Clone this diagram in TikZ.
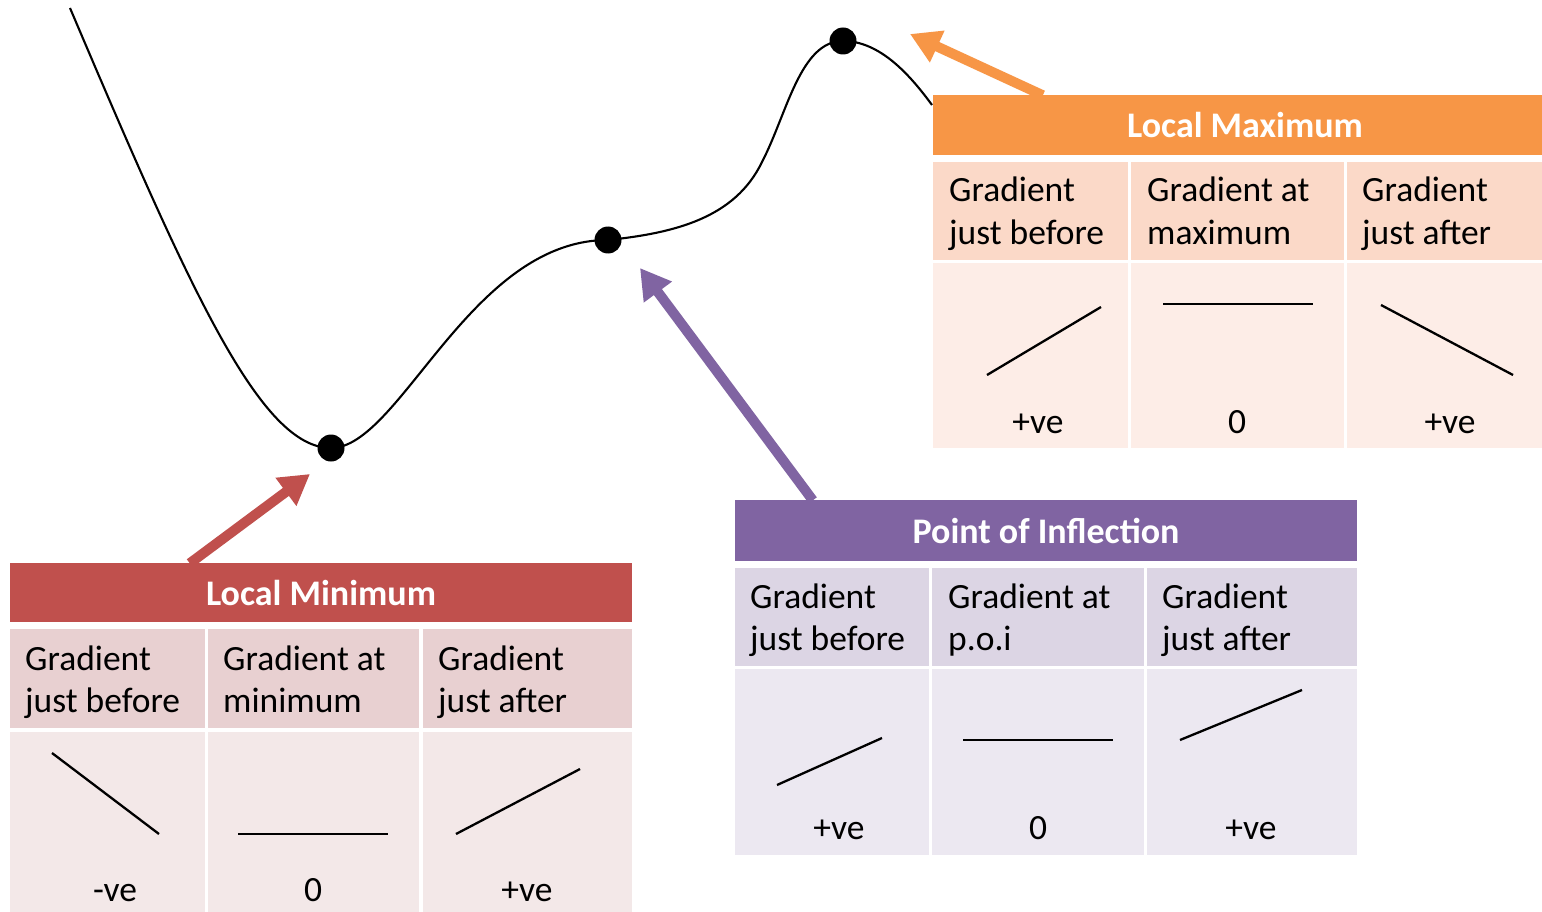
\documentclass[tikz,border=0pt]{standalone}
\usepackage{fontspec}
\setmainfont{Carlito}
\usetikzlibrary{arrows.meta}
\definecolor{redH}{HTML}{C0504D}
\definecolor{redA}{HTML}{E8D0D1}
\definecolor{redB}{HTML}{F3E8E8}
\definecolor{orgH}{HTML}{F79646}
\definecolor{orgA}{HTML}{FBD9C8}
\definecolor{orgB}{HTML}{FDEDE7}
\definecolor{purH}{HTML}{8064A2}
\definecolor{purA}{HTML}{DCD5E4}
\definecolor{purB}{HTML}{ECE8F1}
\begin{document}
\begin{tikzpicture}[x=1pt,y=-1pt,
  hdr/.style={draw=none,inner sep=0pt,text=white,font=\bfseries\fontsize{36}{40}\selectfont},
  cellbox/.style={draw=none,inner sep=0pt,anchor=north west},
  ct/.style={inner sep=0pt,anchor=base west,font=\fontsize{35.5}{42}\selectfont},
  cv/.style={inner sep=0pt,anchor=base,font=\fontsize{35.5}{42}\selectfont},
  gl/.style={line width=2.3pt,black},
  arr/.style={line width=10pt,-{Triangle[length=30pt,width=33pt]}},
  dot/.style={circle,fill=black,inner sep=0pt,minimum size=27pt}]
\useasboundingbox (0,0) rectangle (1542,912);
\fill[white] (0,0) rectangle (1542,912);

% curve and points
\node[dot] (pmin) at (331,448) {};
\node[dot] (pinf) at (608,240) {};
\node[dot] (pmax) at (843,41) {};
\coordinate (cstart) at (70,8);
\coordinate (cmid) at (762,162);
\coordinate (cend) at (932,105);
\draw[line width=2.1pt] (cstart) .. controls (190,290) and (260,448) .. (pmin.center)
  .. controls (400,448) and (470,240) .. (pinf.center)
  .. controls (675,233) and (735,218) .. (cmid)
  .. controls (787,114) and (800,41) .. (pmax.center)
  .. controls (880,41) and (910,75) .. (cend);

% ---------- Local Minimum ----------
\node[hdr,fill=redH,minimum width=622pt,minimum height=59pt] (minH) at (321,592.5) {Local Minimum};
\node[cellbox,fill=redA,minimum width=195pt,minimum height=99pt] (minA1) at (10,629) {};
\node[cellbox,fill=redA,minimum width=211pt,minimum height=99pt] (minA2) at (208,629) {};
\node[cellbox,fill=redA,minimum width=209pt,minimum height=99pt] (minA3) at (423,629) {};
\node[cellbox,fill=redB,minimum width=195pt,minimum height=182pt] (minB1) at (10,732) {};
\node[cellbox,fill=redB,minimum width=211pt,minimum height=182pt] (minB2) at (208,732) {};
\node[cellbox,fill=redB,minimum width=209pt,minimum height=182pt] (minB3) at (423,732) {};
\node[ct] (minT1a) at (25,670) {Gradient};
\node[ct] (minT1b) at (25,712) {just before};
\node[ct] (minT2a) at (223,670) {Gradient at};
\node[ct] (minT2b) at (223,712) {minimum};
\node[ct] (minT3a) at (438,670) {Gradient};
\node[ct] (minT3b) at (438,712) {just after};
\draw[gl] (52,753) -- (159,834);
\draw[gl] (238,834) -- (388,834);
\draw[gl] (456,834) -- (580,769);
\node[cv] (minV1) at (115,901) {-ve};
\node[cv] (minV2) at (313,901) {0};
\node[cv] (minV3) at (527,901) {+ve};

% ---------- Local Maximum ----------
\node[hdr,fill=orgH,minimum width=609pt,minimum height=60pt] (maxH) at (1237.5,125) {};
\node[hdr] (maxHt) at (1245,125) {Local Maximum};
\node[cellbox,fill=orgA,minimum width=195pt,minimum height=98pt] (maxA1) at (933,162) {};
\node[cellbox,fill=orgA,minimum width=213pt,minimum height=98pt] (maxA2) at (1131,162) {};
\node[cellbox,fill=orgA,minimum width=195pt,minimum height=98pt] (maxA3) at (1347,162) {};
\node[cellbox,fill=orgB,minimum width=195pt,minimum height=185pt] (maxB1) at (933,263) {};
\node[cellbox,fill=orgB,minimum width=213pt,minimum height=185pt] (maxB2) at (1131,263) {};
\node[cellbox,fill=orgB,minimum width=195pt,minimum height=185pt] (maxB3) at (1347,263) {};
\node[ct] (maxT1a) at (949,202) {Gradient};
\node[ct] (maxT1b) at (949,244) {just before};
\node[ct] (maxT2a) at (1147,202) {Gradient at};
\node[ct] (maxT2b) at (1147,244) {maximum};
\node[ct] (maxT3a) at (1362,202) {Gradient};
\node[ct] (maxT3b) at (1362,244) {just after};
\draw[gl] (987,375) -- (1101,307);
\draw[gl] (1163,304) -- (1313,304);
\draw[gl] (1381,305) -- (1513,375);
\node[cv] (maxV1) at (1038,433) {+ve};
\node[cv] (maxV2) at (1237,433) {0};
\node[cv] (maxV3) at (1450,433) {+ve};

% ---------- Point of Inflection ----------
\node[hdr,fill=purH,minimum width=622pt,minimum height=61pt] (poiH) at (1046,530.5) {Point of Inflection};
\node[cellbox,fill=purA,minimum width=194pt,minimum height=98pt] (poiA1) at (735,568) {};
\node[cellbox,fill=purA,minimum width=212pt,minimum height=98pt] (poiA2) at (932,568) {};
\node[cellbox,fill=purA,minimum width=210pt,minimum height=98pt] (poiA3) at (1147,568) {};
\node[cellbox,fill=purB,minimum width=194pt,minimum height=186pt] (poiB1) at (735,669) {};
\node[cellbox,fill=purB,minimum width=212pt,minimum height=186pt] (poiB2) at (932,669) {};
\node[cellbox,fill=purB,minimum width=210pt,minimum height=186pt] (poiB3) at (1147,669) {};
\node[ct] (poiT1a) at (750,608) {Gradient};
\node[ct] (poiT1b) at (750,650) {just before};
\node[ct] (poiT2a) at (948,608) {Gradient at};
\node[ct] (poiT2b) at (948,650) {p.o.i};
\node[ct] (poiT3a) at (1162,608) {Gradient};
\node[ct] (poiT3b) at (1162,650) {just after};
\draw[gl] (777,785) -- (882,738);
\draw[gl] (963,740) -- (1113,740);
\draw[gl] (1180,740) -- (1302,690);
\node[cv] (poiV1) at (839,839) {+ve};
\node[cv] (poiV2) at (1038,839) {0};
\node[cv] (poiV3) at (1251,839) {+ve};

% ---------- arrows ----------
\coordinate (minTip) at (310,474);
\coordinate (maxTip) at (910,34);
\coordinate (poiTip) at (640,268);
\draw[arr,redH] ([xshift=180pt,yshift=-0.5pt]minH.north west) -- (minTip);
\draw[arr,orgH] ([xshift=110pt,yshift=-0.5pt]maxH.north west) -- (maxTip);
\draw[arr,purH] ([xshift=78pt,yshift=-0.5pt]poiH.north west) -- (poiTip);
\end{tikzpicture}
\end{document}
